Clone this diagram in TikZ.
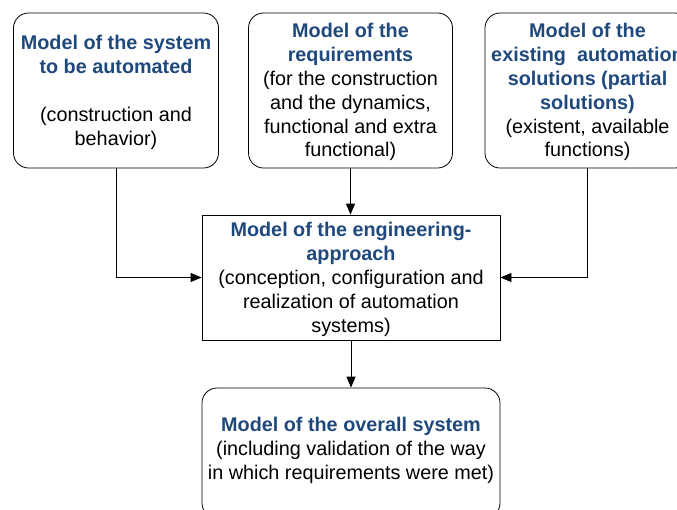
\documentclass[tikz,border=0pt]{standalone}
\usepackage{fontspec}
\setmainfont{Liberation Sans}
\usetikzlibrary{arrows.meta}
\definecolor{titleblue}{RGB}{31,73,125}
\newcommand{\ttl}[1]{{\bfseries\color{titleblue}#1}}
\newcommand{\topstrut}{\rule{0pt}{18pt}}
\begin{document}
\begin{tikzpicture}[x=1pt,y=-1pt,
  box/.style={draw=black,line width=0.8pt,align=center,inner sep=0pt,
    font=\fontsize{19.8}{23.8}\selectfont},
  rbox/.style={box,rounded corners=15pt},
  conn/.style={line width=0.8pt,-{Triangle[length=11pt,width=9pt]}}]
\useasboundingbox (0,0) rectangle (677,509);
\node[rbox,minimum width=205,minimum height=155] (sys) at (116,90.5)
  {\topstrut\ttl{Model of the system}\\\ttl{to be automated}\\[23.8pt](construction and\\behavior)};
\node[rbox,minimum width=204,minimum height=155] (req) at (350.5,90.5)
  {\topstrut\ttl{Model of the}\\\ttl{requirements}\\(for the construction\\and the dynamics,\\functional and extra\\functional)};
\node[rbox,minimum width=205,minimum height=155] (ex) at (587.5,90.5)
  {\topstrut\ttl{Model of the}\\\ttl{existing\ \ automation}\\\ttl{solutions (partial}\\\ttl{solutions)}\\(existent, available\\functions)};
\node[box,minimum width=298,minimum height=125] (eng) at (351,277.5)
  {\topstrut\ttl{Model of the engineering-}\\\ttl{approach}\\(conception, configuration and\\realization of automation\\systems)};
\node[rbox,minimum width=298,minimum height=130] (ov) at (351,453)
  {\ttl{Model of the overall system}\\(including validation of the way\\in which requirements were met)\rule[-9pt]{0pt}{9pt}};
\draw[conn] (sys.south) |- (eng.west);
\draw[conn] (req.south) -- (req.south |- eng.north);
\draw[conn] (ex.south) |- (eng.east);
\draw[conn] (eng.south) -- (eng.south |- ov.north);
\end{tikzpicture}
\end{document}
